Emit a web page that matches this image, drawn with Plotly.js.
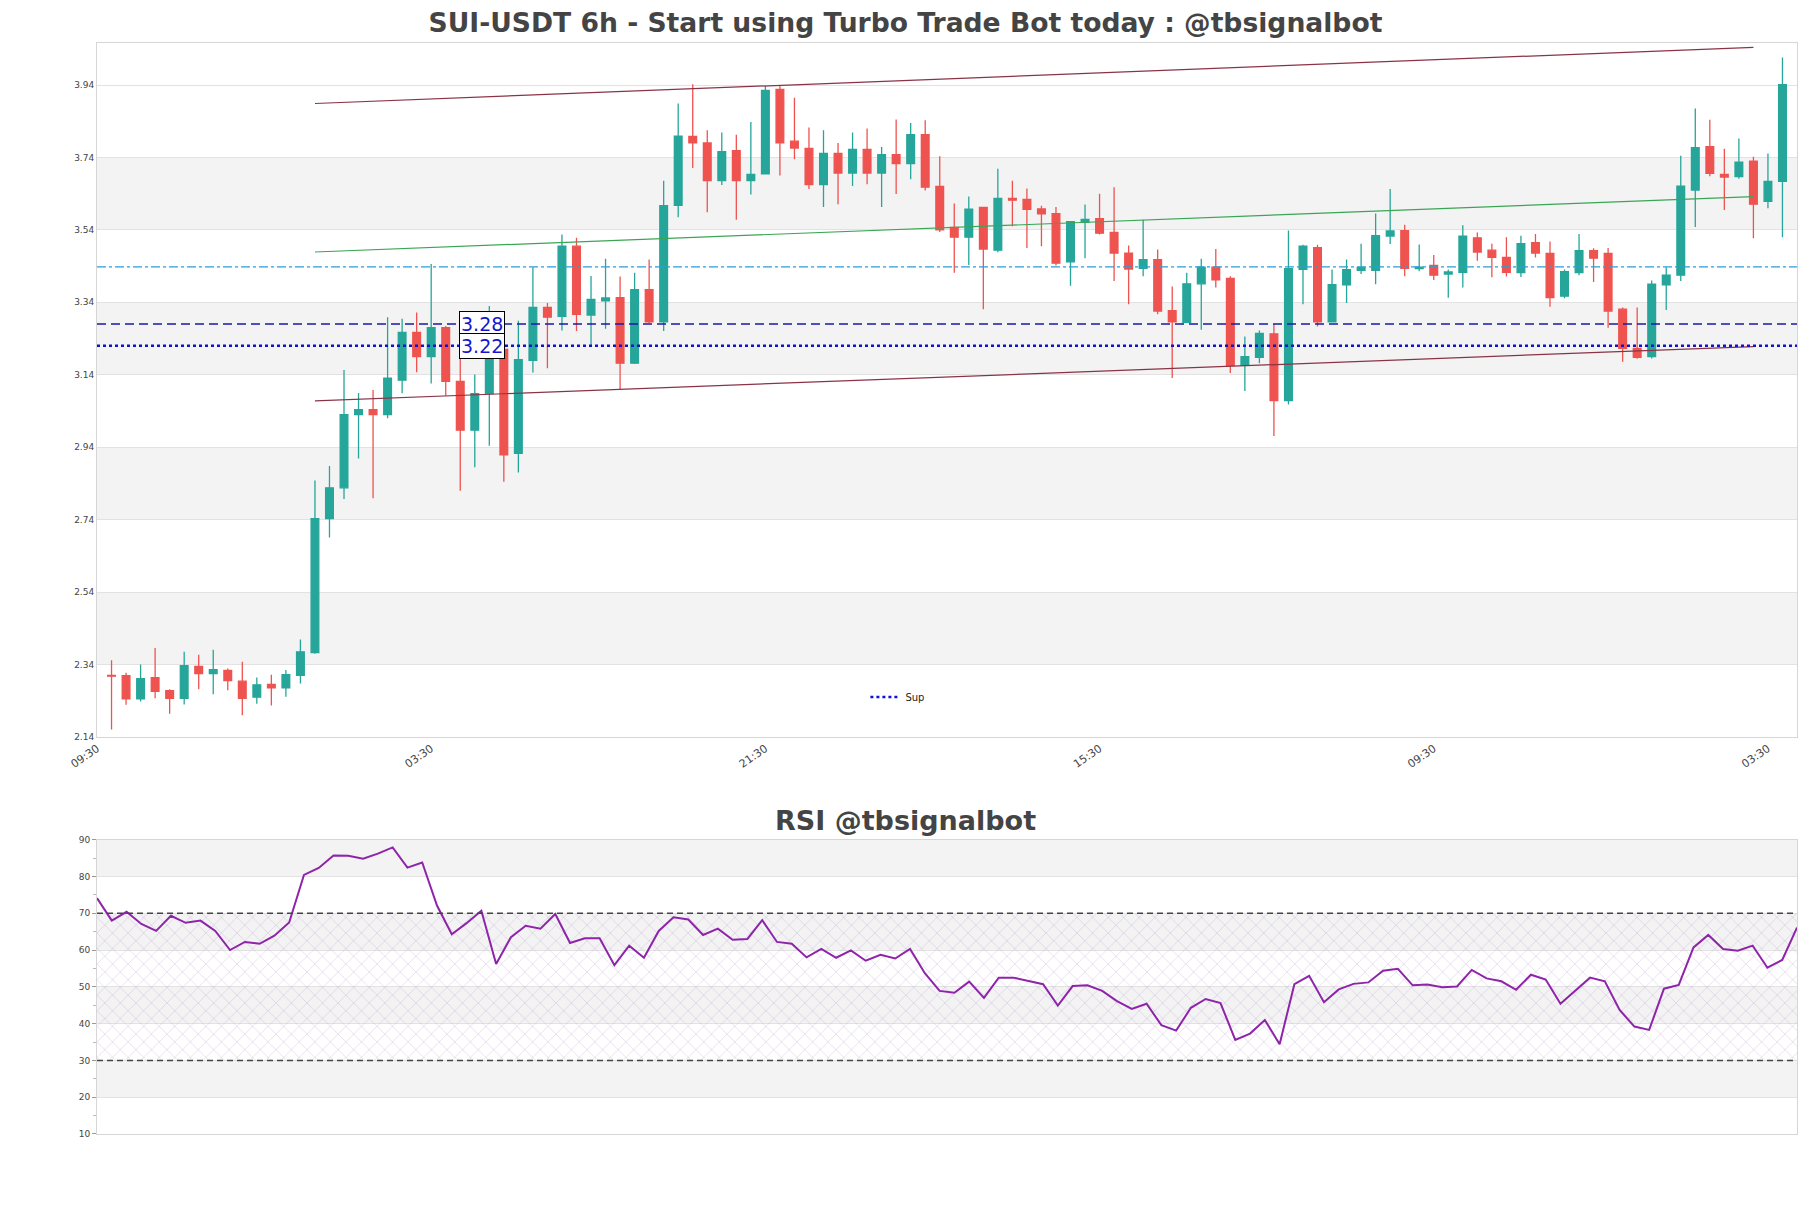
<!DOCTYPE html>
<html><head><meta charset="utf-8">
<script src="https://cdn.plot.ly/plotly-3.0.1.min.js"></script>
<style>html,body{margin:0;padding:0;background:#fff;}#chart{width:1811px;height:1208px;}</style>
</head><body><div id="chart"></div>
<script>
// ---- data ----
const opens = [2.310,2.309,2.245,2.304,2.268,2.247,2.335,2.315,2.324,2.294,2.250,2.285,2.276,2.310,2.373,2.743,2.828,3.030,3.044,3.030,
3.125,3.257,3.190,3.270,3.122,2.987,3.088,3.210,2.923,3.180,3.326,3.301,3.495,3.305,3.344,3.353,3.172,3.375,3.286,3.608,
3.798,3.780,3.676,3.759,3.676,3.695,3.928,3.785,3.765,3.665,3.751,3.697,3.762,3.697,3.748,3.723,3.803,3.660,3.547,3.520,
3.602,3.484,3.627,3.624,3.598,3.585,3.452,3.561,3.571,3.533,3.476,3.434,3.458,3.317,3.285,3.391,3.437,3.406,3.166,3.188,
3.253,3.069,3.431,3.491,3.286,3.388,3.428,3.428,3.523,3.538,3.433,3.442,3.418,3.423,3.518,3.484,3.464,3.422,3.505,3.475,
3.357,3.422,3.483,3.475,3.321,3.213,3.190,3.388,3.415,3.650,3.770,3.693,3.687,3.730,3.619,3.674];
const highs = [2.352,2.317,2.340,2.386,2.272,2.375,2.367,2.381,2.329,2.348,2.304,2.312,2.325,2.409,2.848,2.888,3.153,3.090,3.098,3.299,
3.295,3.312,3.446,3.275,3.203,3.141,3.330,3.230,3.289,3.437,3.338,3.527,3.518,3.413,3.460,3.411,3.422,3.458,3.676,3.889,
3.942,3.815,3.809,3.803,3.838,3.937,3.937,3.905,3.823,3.815,3.780,3.809,3.820,3.769,3.845,3.835,3.843,3.743,3.613,3.632,
3.604,3.709,3.676,3.654,3.607,3.603,3.564,3.610,3.640,3.658,3.497,3.568,3.486,3.384,3.422,3.460,3.487,3.412,3.246,3.262,
3.280,3.538,3.499,3.499,3.431,3.458,3.502,3.585,3.653,3.554,3.500,3.471,3.431,3.553,3.533,3.502,3.520,3.524,3.529,3.508,
3.431,3.529,3.489,3.490,3.326,3.326,3.400,3.437,3.745,3.875,3.844,3.764,3.792,3.742,3.751,4.016];
const lows = [2.161,2.229,2.238,2.247,2.204,2.230,2.272,2.258,2.269,2.200,2.232,2.227,2.251,2.288,2.370,2.691,2.797,2.909,2.799,3.020,
3.089,3.147,3.116,3.082,2.820,2.885,2.944,2.845,2.870,3.146,3.158,3.262,3.261,3.217,3.267,3.098,3.170,3.283,3.261,3.575,
3.711,3.589,3.664,3.568,3.638,3.695,3.690,3.735,3.653,3.603,3.611,3.661,3.666,3.603,3.639,3.680,3.649,3.534,3.422,3.443,
3.321,3.478,3.550,3.490,3.495,3.442,3.386,3.462,3.527,3.399,3.335,3.412,3.307,3.131,3.285,3.264,3.381,3.145,3.095,3.172,
2.971,3.058,3.335,3.273,3.286,3.338,3.418,3.390,3.501,3.412,3.426,3.402,3.353,3.381,3.455,3.409,3.411,3.410,3.464,3.328,
3.351,3.415,3.396,3.270,3.176,3.184,3.185,3.319,3.399,3.548,3.688,3.595,3.681,3.517,3.600,3.520];
const closes = [2.308,2.245,2.301,2.266,2.247,2.337,2.315,2.326,2.296,2.247,2.284,2.276,2.312,2.375,2.743,2.828,3.030,3.044,3.030,3.131,
3.257,3.190,3.270,3.122,2.987,3.088,3.210,2.919,3.182,3.326,3.299,3.495,3.307,3.348,3.352,3.172,3.375,3.286,3.607,3.799,
3.780,3.676,3.756,3.676,3.693,3.925,3.780,3.766,3.665,3.751,3.697,3.762,3.697,3.748,3.723,3.803,3.658,3.540,3.520,3.597,
3.487,3.627,3.622,3.597,3.584,3.448,3.563,3.569,3.531,3.476,3.432,3.458,3.316,3.286,3.391,3.437,3.402,3.166,3.190,3.254,
3.069,3.433,3.495,3.286,3.389,3.430,3.436,3.524,3.537,3.434,3.437,3.415,3.424,3.523,3.479,3.464,3.423,3.502,3.476,3.353,
3.425,3.483,3.462,3.316,3.213,3.188,3.390,3.415,3.661,3.767,3.696,3.686,3.727,3.611,3.674,3.941];
const rsi = [74.1,68.0,70.4,67.1,65.2,69.3,67.4,68.0,65.2,60.0,62.2,61.7,63.9,67.5,80.4,82.3,85.7,85.6,84.8,86.2,
87.9,82.4,83.8,72.1,64.3,67.3,70.7,56.2,63.5,66.6,65.8,69.8,61.9,63.2,63.2,55.9,61.2,57.9,65.2,68.9,
68.3,64.1,65.8,62.8,63.0,68.1,62.2,61.7,58.0,60.3,57.9,59.9,57.1,58.7,57.7,60.3,53.7,48.9,48.4,51.4,
47.0,52.5,52.5,51.5,50.7,44.9,50.2,50.4,48.9,46.1,44.0,45.4,39.6,38.1,44.3,46.7,45.6,35.6,37.3,41.0,
34.4,50.7,53.0,45.8,49.3,50.8,51.2,54.4,54.9,50.4,50.6,49.9,50.1,54.6,52.3,51.5,49.2,53.3,52.0,45.4,
49.0,52.5,51.5,43.7,39.2,38.3,49.5,50.5,60.7,64.1,60.3,59.8,61.2,55.2,57.3,66.1];
const priceTicks = [2.14,2.34,2.54,2.74,2.94,3.14,3.34,3.54,3.74,3.94];
const rsiTicks = [10,20,30,40,50,60,70,80,90];
const tickLabels = ['09:30','03:30','21:30','15:30','09:30','03:30'];
const resistanceLevel = 3.28;
const supportLevel = 3.22;
const pivotLevel = 3.438;
const channelIdx = [14, 113];
const upperChannel = [3.889, 4.044];
const midChannel = [3.479, 3.632];
const lowerChannel = [3.068, 3.218];
const rsiUpper = 70, rsiLower = 30;

// ---- time axis (6h candles) ----
const H = 3600*1000, STEP = 6*H;
const base = Date.UTC(2024, 10, 10, 15, 30);
const fmt = ms => new Date(ms).toISOString().slice(0,16).replace('T',' ');
const times = opens.map((_, i) => fmt(base + i*STEP));
const n = times.length;
const xRange = [fmt(base - STEP), fmt(base + n*STEP)];
const tickTimes = tickLabels.map((_, k) => fmt(base - STEP + k*23*STEP));

const FONT = 'DejaVu Sans';
const GRID = '#e2e2e2', BAND = '#f3f3f3', BORDER = '#d6d6d6';

const traces = [
  {type:'candlestick', x:times, open:opens, high:highs, low:lows, close:closes,
   increasing:{line:{color:'#26a69a', width:1.3}, fillcolor:'#26a69a'},
   decreasing:{line:{color:'#ef5350', width:1.3}, fillcolor:'#ef5350'},
   whiskerwidth:0, showlegend:false, hoverinfo:'skip', xaxis:'x', yaxis:'y'},
  {type:'scatter', mode:'lines', x:[times[channelIdx[0]], times[channelIdx[1]]], y:upperChannel,
   line:{color:'#8a3347', width:1.2}, showlegend:false, xaxis:'x', yaxis:'y'},
  {type:'scatter', mode:'lines', x:[times[channelIdx[0]], times[channelIdx[1]]], y:lowerChannel,
   line:{color:'#8a3347', width:1.2}, showlegend:false, xaxis:'x', yaxis:'y'},
  {type:'scatter', mode:'lines', x:[times[channelIdx[0]], times[channelIdx[1]]], y:midChannel,
   line:{color:'#3aa655', width:1.2}, showlegend:false, xaxis:'x', yaxis:'y'},
  {type:'scatter', mode:'lines', x:xRange, y:[supportLevel, supportLevel], name:'Sup',
   line:{color:'#1010d8', width:2.6, dash:'dot'}, showlegend:true, xaxis:'x', yaxis:'y'},
  // RSI hatch zone
  {type:'scatter', mode:'lines', x:[times[0], times[n-1]], y:[rsiLower, rsiLower],
   line:{width:0}, showlegend:false, hoverinfo:'skip', xaxis:'x2', yaxis:'y2'},
  {type:'scatter', mode:'lines', x:[times[0], times[n-1]], y:[rsiUpper, rsiUpper], fill:'tonexty',
   fillcolor:'rgba(0,0,0,0)', fillpattern:{shape:'x', fgcolor:'rgba(175,140,200,0.6)', bgcolor:'rgba(0,0,0,0)', size:11, solidity:0.08},
   line:{width:0}, showlegend:false, hoverinfo:'skip', xaxis:'x2', yaxis:'y2'},
  {type:'scatter', mode:'lines', x:times, y:rsi, line:{color:'#8e24aa', width:2},
   showlegend:false, xaxis:'x2', yaxis:'y2'}
];

const shapes = [];
for (let i = 1; i < priceTicks.length - 1; i += 2) {
  shapes.push({type:'rect', xref:'x domain', yref:'y', x0:0, x1:1, y0:priceTicks[i], y1:priceTicks[i+1],
    fillcolor:BAND, line:{width:0}, layer:'below'});
}
for (let i = 1; i < rsiTicks.length - 1; i += 2) {
  shapes.push({type:'rect', xref:'x2 domain', yref:'y2', x0:0, x1:1, y0:rsiTicks[i], y1:rsiTicks[i+1],
    fillcolor:BAND, line:{width:0}, layer:'below'});
}
shapes.push({type:'line', xref:'x domain', yref:'y', x0:0, x1:1, y0:pivotLevel, y1:pivotLevel,
  line:{color:'#2a9fd6', width:1.3, dash:'dashdot'}, layer:'above'});
shapes.push({type:'line', xref:'x domain', yref:'y', x0:0, x1:1, y0:resistanceLevel, y1:resistanceLevel,
  line:{color:'#1a1aa8', width:1.5, dash:'9px,5px'}, layer:'above'});
[rsiUpper, rsiLower].forEach(v => shapes.push({type:'line', xref:'x2 domain', yref:'y2', x0:0, x1:1, y0:v, y1:v,
  line:{color:'#444', width:1.5, dash:'6px,4px'}, layer:'above'}));

const labelX = fmt(base + 25.5*STEP);
const annotations = [
  {xref:'x', yref:'y', x:labelX, y:resistanceLevel, text:resistanceLevel.toFixed(2), showarrow:false,
   font:{family:FONT, size:19, color:'#1515d0'}, bgcolor:'#fff', bordercolor:'#000', borderwidth:1, borderpad:1},
  {xref:'x', yref:'y', x:labelX, y:supportLevel, text:supportLevel.toFixed(2), showarrow:false,
   font:{family:FONT, size:19, color:'#1515d0'}, bgcolor:'#fff', bordercolor:'#000', borderwidth:1, borderpad:1},
  {xref:'paper', yref:'paper', x:0.4753, y:0.2878, xanchor:'center', yanchor:'middle', showarrow:false,
   text:'RSI @tbsignalbot', font:{family:FONT, size:27, color:'#444', weight:'bold'}}
];

const layout = {
  width:1811, height:1208,
  margin:{l:97, r:14, t:43, b:74},
  paper_bgcolor:'#fff', plot_bgcolor:'#fff',
  font:{family:FONT, size:10, color:'#444'},
  title:{text:'SUI-USDT 6h - Start using Turbo Trade Bot today : @tbsignalbot', x:0.5, xanchor:'center',
    y:0.981, yanchor:'middle', yref:'container', font:{family:FONT, size:26.6, color:'#444', weight:'bold'}},
  showlegend:true,
  legend:{x:0.452, y:0.4005, xanchor:'left', yanchor:'middle', bgcolor:'rgba(0,0,0,0)', font:{size:10, color:'#222'}},
  boxgap:0.24,
  xaxis:{type:'date', domain:[0,1], anchor:'y', range:xRange, tickvals:tickTimes, ticktext:tickLabels,
    tickangle:-35, showgrid:false, showline:true, mirror:true, linecolor:BORDER, zeroline:false,
    rangeslider:{visible:false}, tickfont:{size:11}},
  yaxis:{domain:[0.3639,1], anchor:'x', range:[2.14, 4.056], tickvals:priceTicks, ticktext:priceTicks.map(v=>v.toFixed(2)),
    gridcolor:GRID, showline:true, mirror:true, linecolor:BORDER, zeroline:false, tickfont:{size:9}},
  xaxis2:{type:'date', domain:[0,1], anchor:'y2', range:[times[0], times[n-1]], showticklabels:false,
    showgrid:false, showline:true, mirror:true, linecolor:BORDER, zeroline:false},
  yaxis2:{domain:[0,0.2698], anchor:'x2', range:[10,90], tickvals:rsiTicks, gridcolor:GRID,
    showline:true, mirror:true, linecolor:BORDER, zeroline:false, ticks:'outside', ticklen:4, tickcolor:'#999',
    minor:{dtick:5, tick0:5, ticks:'outside', ticklen:3, tickcolor:'#bbb', showgrid:false}, tickfont:{size:9}},
  shapes, annotations
};

Plotly.newPlot('chart', traces, layout, {staticPlot:true, displayModeBar:false});
</script>
</body></html>
